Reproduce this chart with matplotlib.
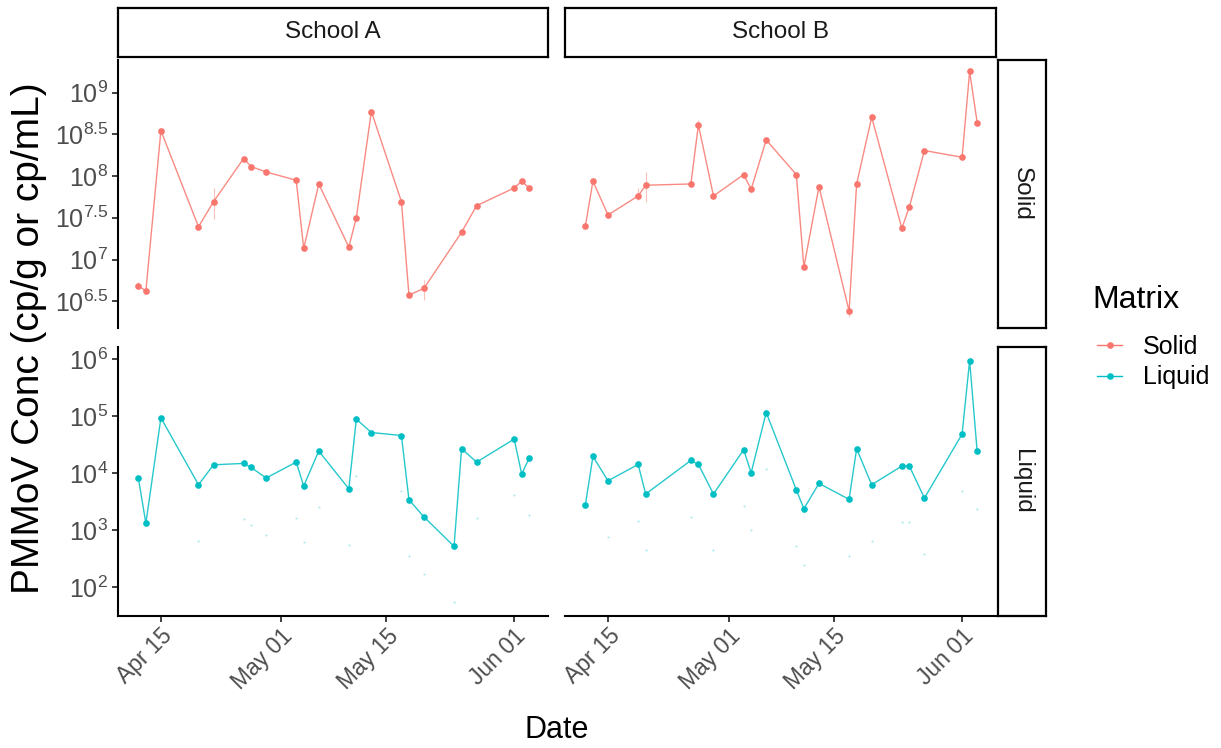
import matplotlib
matplotlib.use("Agg")
import matplotlib.pyplot as plt
import numpy as np
from matplotlib.lines import Line2D
from matplotlib.ticker import NullLocator
import matplotlib.dates as mdates

plt.rcParams["font.family"] = ["Liberation Sans", "DejaVu Sans"]
plt.rcParams["mathtext.fontset"] = "custom"
plt.rcParams["mathtext.rm"] = "Liberation Sans"
plt.rcParams["mathtext.it"] = "Liberation Sans:italic"
plt.rcParams["mathtext.bf"] = "Liberation Sans:bold"

SOLID_COL = "#F8766D"
LIQUID_COL = "#00BFC4"
YEAR = "2021"

# ---- School A ----
a_solid_dates = ["04-12", "04-13", "04-15", "04-20", "04-22", "04-26", "04-27", "04-29",
                 "05-03", "05-04", "05-06", "05-10", "05-11", "05-13", "05-17", "05-18",
                 "05-20", "05-25", "05-27", "06-01", "06-02", "06-03"]
a_solid = [4.85e6, 4.19e6, 3.50e8, 2.47e7, 4.93e7, 1.62e8, 1.30e8, 1.12e8,
           8.91e7, 1.36e7, 8.04e7, 1.41e7, 3.17e7, 5.92e8, 4.93e7, 3.75e6,
           4.52e6, 2.12e7, 4.42e7, 7.19e7, 8.67e7, 7.19e7]
a_solid_err_dates = ["04-12", "04-22", "05-20"]
a_solid_err_lo = [4.6e6, 3.03e7, 3.27e6]
a_solid_err_hi = [5.4e6, 7.26e7, 5.68e6]

a_liquid_dates = ["04-12", "04-13", "04-15", "04-20", "04-22", "04-26", "04-27", "04-29",
                  "05-03", "05-04", "05-06", "05-10", "05-11", "05-13", "05-17", "05-18",
                  "05-20", "05-24", "05-25", "05-27", "06-01", "06-02", "06-03"]
a_liquid = [8150, 1310, 92700, 6210, 13900, 14700, 12500, 8150,
            15500, 5900, 24200, 5280, 87900, 51200, 45400, 3400,
            1690, 516, 26600, 15500, 39300, 9570, 18200]
a_liquid_low_dates = ["04-20", "04-26", "04-27", "04-29", "05-03", "05-04", "05-06", "05-10",
                      "05-11", "05-17", "05-18", "05-20", "05-24", "05-27", "06-01", "06-03"]
a_liquid_low = [650, 1540, 1240, 820, 1620, 620, 2490, 540,
                8930, 4740, 345, 172, 54, 1620, 4040, 1850]

# ---- School B ----
b_dates = ["04-12", "04-13", "04-15", "04-19", "04-20", "04-26", "04-27", "04-29",
           "05-03", "05-04", "05-06", "05-10", "05-11", "05-13", "05-17", "05-18",
           "05-20", "05-24", "05-25", "05-27", "06-01", "06-02", "06-03"]
b_solid = [2.54e7, 8.67e7, 3.42e7, 5.77e7, 7.76e7, 8.04e7, 4.10e8, 5.77e7,
           1.04e8, 6.95e7, 2.71e8, 1.04e8, 8.13e6, 7.46e7, 2.41e6, 8.04e7,
           5.07e8, 2.37e7, 4.26e7, 2.02e8, 1.68e8, 1.79e9, 4.37e8]
b_solid_err_dates = ["04-19", "04-20", "04-27", "05-17"]
b_solid_err_lo = [5.2e7, 4.93e7, 3.7e8, 2.06e6]
b_solid_err_hi = [7.2e7, 1.13e8, 4.7e8, 2.8e6]

b_liquid = [2770, 19500, 7290, 14100, 4270, 16600, 14100, 4270,
            25500, 10100, 115000, 5020, 2360, 6550, 3440, 26600,
            6210, 13200, 13200, 3630, 48000, 933000, 23800]
b_liquid_low_dates = ["04-15", "04-19", "04-20", "04-26", "04-29", "05-03", "05-04", "05-06",
                      "05-10", "05-11", "05-17", "05-20", "05-24", "05-25", "05-27", "06-01",
                      "06-03"]
b_liquid_low = [753, 1440, 440, 1710, 440, 2630, 984, 11900,
                516, 244, 355, 641, 1360, 1360, 374, 4740, 2360]

schools = ["School A", "School B"]
matrices = ["Solid", "Liquid"]
x_ticks = ["04-15", "05-01", "05-15", "06-01"]
solid_exps = [6.5, 7, 7.5, 8, 8.5, 9]
liquid_exps = [2, 3, 4, 5, 6]


def d(days):
    return np.array([np.datetime64(f"{YEAR}-{s}") for s in days])


W, H = 1221, 748
fig = plt.figure(figsize=(W / 100, H / 100), dpi=100)


def box(x0, y0, x1, y1):
    return [x0 / W, 1 - y1 / H, (x1 - x0) / W, (y1 - y0) / H]


panel_x = [(118, 548), (565, 996)]
panel_y = [(60, 328), (347, 616)]

xlim = (np.datetime64(f"{YEAR}-04-09T07:00"), np.datetime64(f"{YEAR}-06-05T12:00"))
ylims = [(10 ** 6.18, 10 ** 9.39), (10 ** 1.49, 10 ** 6.21)]

series = {
    (0, 0): (a_solid_dates, a_solid, SOLID_COL, (a_solid_err_dates, a_solid_err_lo, a_solid_err_hi), None),
    (1, 0): (a_liquid_dates, a_liquid, LIQUID_COL, None, (a_liquid_low_dates, a_liquid_low)),
    (0, 1): (b_dates, b_solid, SOLID_COL, (b_solid_err_dates, b_solid_err_lo, b_solid_err_hi), None),
    (1, 1): (b_dates, b_liquid, LIQUID_COL, None, (b_liquid_low_dates, b_liquid_low)),
}

for (r, c), (dates, vals, col, err, low) in series.items():
    ax = fig.add_axes(box(panel_x[c][0], panel_y[r][0], panel_x[c][1], panel_y[r][1]))
    x = d(dates)
    ax.plot(x, vals, color=col, lw=1.0, alpha=0.85, zorder=2)
    ax.plot(x, vals, "o", ms=4.8, color=col, mec="none", zorder=3)
    if err is not None:
        ax.vlines(d(err[0]), err[1], err[2], color=col, lw=0.8, alpha=0.45, zorder=1)
    if low is not None:
        ax.plot(d(low[0]), low[1], "s", ms=1.3, color=col, mec="none", alpha=0.35, zorder=1)

    ax.set_yscale("log")
    ax.set_xlim(*xlim)
    ax.set_ylim(*ylims[r])
    ax.yaxis.set_minor_locator(NullLocator())
    ax.xaxis.set_minor_locator(NullLocator())
    for s in ("top", "right"):
        ax.spines[s].set_visible(False)
    ax.spines["left"].set_visible(c == 0)
    ax.spines["bottom"].set_visible(r == 1)
    for s in ("left", "bottom"):
        ax.spines[s].set_linewidth(1.5)
    ax.tick_params(axis="both", length=4, width=1.3, color="#333333",
                   labelcolor="#4D4D4D", pad=2)
    ax.tick_params(axis="x", labelsize=16.5)
    ax.tick_params(axis="y", labelsize=18, pad=3)

    exps = solid_exps if r == 0 else liquid_exps
    ax.set_yticks([10 ** e for e in exps])
    ax.set_yticklabels([rf"$10^{{{e:g}}}$" for e in exps])
    if c == 1:
        ax.tick_params(axis="y", left=False, labelleft=False)

    ax.set_xticks(d(x_ticks))
    ax.xaxis.set_major_formatter(mdates.DateFormatter("%b %d"))
    if r == 0:
        ax.tick_params(axis="x", bottom=False, labelbottom=False)
    else:
        for lab in ax.get_xticklabels():
            lab.set_rotation(45)
            lab.set_ha("right")
            lab.set_va("top")
            lab.set_rotation_mode("anchor")


def strip(rect, text, rotation=0):
    sa = fig.add_axes(box(*rect))
    sa.set_xticks([])
    sa.set_yticks([])
    for s in sa.spines.values():
        s.set_linewidth(1.6)
        s.set_color("black")
    sa.text(0.5, 0.5, text, transform=sa.transAxes, ha="center", va="center",
            fontsize=17.5, color="#1A1A1A", rotation=rotation)


for c, name in enumerate(schools):
    strip((panel_x[c][0], 8, panel_x[c][1], 57), name)
for r, name in enumerate(matrices):
    strip((998, panel_y[r][0], 1046, panel_y[r][1]), name, rotation=-90)

fig.text(29 / W, 1 - 338 / H, "PMMoV Conc (cp/g or cp/mL)", rotation=90,
         ha="center", va="center", fontsize=28)
fig.text(557 / W, 1 - 730 / H, "Date", ha="center", va="center", fontsize=22)

# legend: title drawn separately so the gap above the keys can be set
fig.text(1092 / W, 1 - 300 / H, "Matrix", ha="left", va="center", fontsize=23)
handles = [Line2D([], [], color=SOLID_COL, lw=1, marker="o", ms=4.8, mec="none"),
           Line2D([], [], color=LIQUID_COL, lw=1, marker="o", ms=4.8, mec="none")]
fig.legend(handles, matrices, loc="upper left",
           bbox_to_anchor=(1097 / W, 1 - 335 / H), frameon=False, fontsize=18,
           handlelength=1.0, handletextpad=0.85, borderpad=0, borderaxespad=0,
           labelspacing=0.25)

fig.savefig("out.png", dpi=100)
